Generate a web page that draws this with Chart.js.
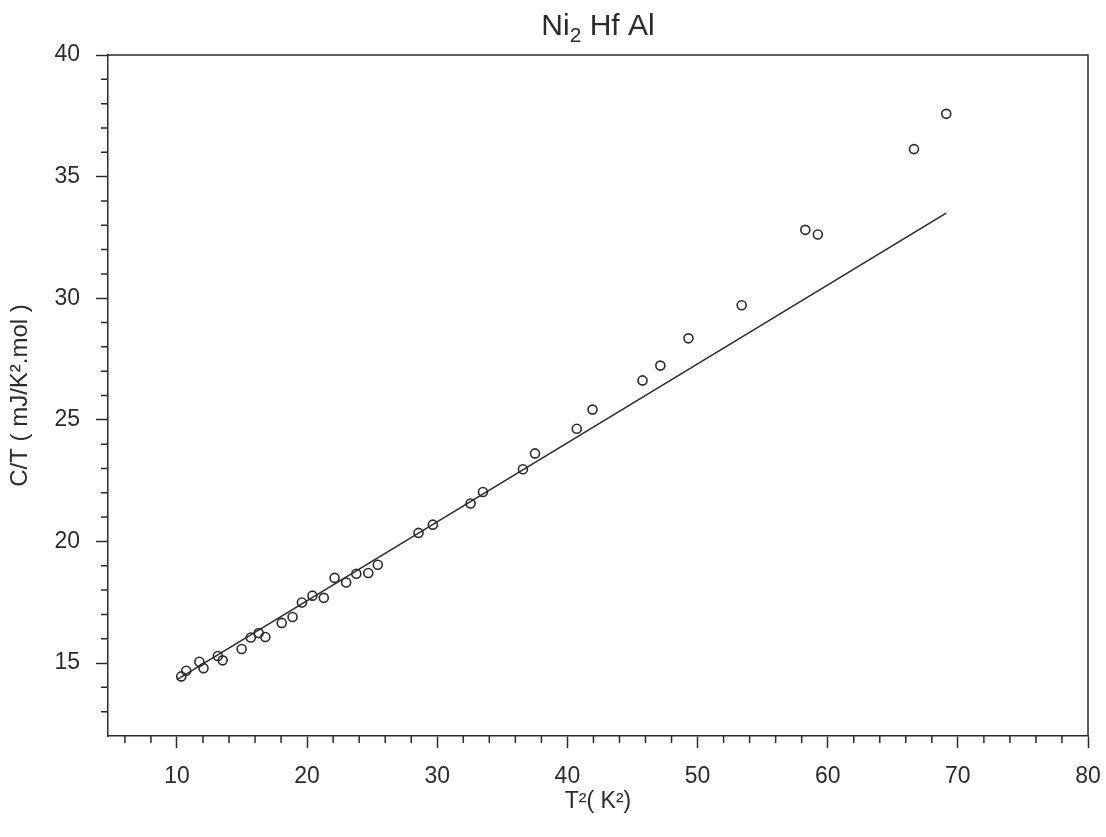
<!DOCTYPE html>
<html>
<head>
<meta charset="utf-8">
<title>Ni2HfAl specific heat</title>
<script src="https://cdn.jsdelivr.net/npm/chart.js@4.4.0/dist/chart.umd.min.js"></script>
<style>
  html, body { margin: 0; padding: 0; background: #fff; }
</style>
</head>
<body>
<canvas id="heatChart" width="1106" height="837"></canvas>
<script>
// measured C/T against T^2
const tSquared = [10.33, 10.71, 11.72, 12.04, 13.14, 13.51, 14.97, 15.67, 16.28, 16.79,
  18.05, 18.88, 19.60, 20.41, 21.28, 22.11, 23.00, 23.78, 24.70, 25.43,
  28.56, 29.66, 32.56, 33.51, 36.58, 37.51, 40.72, 41.93, 45.77, 47.14,
  49.30, 53.39, 58.28, 59.24, 66.63, 69.11];
const cOverT = [14.45, 14.68, 15.05, 14.79, 15.29, 15.11, 15.58, 16.05, 16.23, 16.07,
  16.65, 16.89, 17.49, 17.77, 17.68, 18.50, 18.31, 18.67, 18.70, 19.04,
  20.35, 20.69, 21.56, 22.03, 22.97, 23.62, 24.63, 25.42, 26.62, 27.23,
  28.35, 29.71, 32.81, 32.62, 36.13, 37.58];

// linear fit (gamma + beta T^2), end points
const fitT2 = [10.0, 69.1];
const fitCT = [14.32, 33.5];

const xMajor = [10, 20, 30, 40, 50, 60, 70, 80];
const yMajor = [15, 20, 25, 30, 35, 40];
const xMinorStep = 2;
const yMinorStep = 1;

const INK = "#2b2b2b";
const FONT = "'Liberation Sans', Arial, sans-serif";

const xMinor = [];
for (let v = 6; v <= 80; v += xMinorStep) if (!xMajor.includes(v)) xMinor.push(v);
const yMinor = [];
for (let v = 13; v <= 40; v += yMinorStep) if (!yMajor.includes(v)) yMinor.push(v);

// frame, short minor ticks and the formula title
const framePlugin = {
  id: "framePlugin",
  afterDraw(chart) {
    const { ctx, chartArea: a, scales } = chart;
    ctx.save();
    ctx.strokeStyle = INK;
    ctx.lineWidth = 1.5;
    ctx.beginPath();
    ctx.moveTo(a.left, a.top);
    ctx.lineTo(a.right, a.top);
    ctx.lineTo(a.right, a.bottom);
    xMinor.forEach((v) => {
      const x = scales.x.getPixelForValue(v);
      ctx.moveTo(x, a.bottom);
      ctx.lineTo(x, a.bottom + 7);
    });
    yMinor.forEach((v) => {
      const y = scales.y.getPixelForValue(v);
      ctx.moveTo(a.left, y);
      ctx.lineTo(a.left - 7, y);
    });
    ctx.stroke();

    // Ni2 Hf Al with subscript 2
    const big = "30px " + FONT;
    const small = "21px " + FONT;
    ctx.fillStyle = INK;
    ctx.textBaseline = "alphabetic";
    ctx.font = big;
    const w1 = ctx.measureText("Ni").width;
    const w3 = ctx.measureText(" Hf Al").width;
    ctx.font = small;
    const w2 = ctx.measureText("2").width;
    const total = w1 + w2 + w3;
    let x = (a.left + a.right) / 2 - total / 2;
    const base = 35;
    ctx.textAlign = "left";
    ctx.font = big;
    ctx.fillText("Ni", x, base);
    x += w1;
    ctx.font = small;
    ctx.fillText("2", x, base + 7);
    x += w2;
    ctx.font = big;
    ctx.fillText(" Hf Al", x, base);
    ctx.restore();
  },
};

const ctx = document.getElementById("heatChart").getContext("2d");
new Chart(ctx, {
  data: {
    datasets: [
      {
        type: "scatter",
        label: "data",
        data: tSquared.map((t, i) => ({ x: t, y: cOverT[i] })),
        pointStyle: "circle",
        pointRadius: 4.5,
        pointBorderWidth: 1.6,
        pointBorderColor: INK,
        pointBackgroundColor: "rgba(255,255,255,0)",
      },
      {
        type: "line",
        label: "fit",
        data: fitT2.map((t, i) => ({ x: t, y: fitCT[i] })),
        borderColor: INK,
        borderWidth: 1.6,
        pointRadius: 0,
        fill: false,
      },
    ],
  },
  options: {
    responsive: false,
    devicePixelRatio: 1,
    animation: false,
    layout: { padding: { top: 55, right: 18, bottom: 0, left: 0 } },
    plugins: {
      legend: { display: false },
      tooltip: { enabled: false },
      title: { display: false },
    },
    scales: {
      x: {
        type: "linear",
        position: "bottom",
        min: 4.7,
        max: 80,
        afterBuildTicks: (axis) => {
          axis.ticks = xMajor.map((v) => ({ value: v }));
        },
        afterFit: (axis) => {
          axis.height = 101;
          axis.paddingLeft = 0;
          axis.paddingRight = 0;
        },
        grid: { drawOnChartArea: false, tickLength: 12, tickColor: INK, tickWidth: 1.5 },
        border: { color: INK, width: 1.5 },
        ticks: {
          color: INK,
          padding: 15,
          maxRotation: 0,
          autoSkip: false,
          font: { family: FONT, size: 23 },
        },
        title: {
          display: true,
          text: "T²( K²)",
          color: INK,
          font: { family: FONT, size: 23 },
          padding: { top: 0, bottom: 22 },
        },
      },
      y: {
        type: "linear",
        position: "left",
        min: 12,
        max: 40,
        afterBuildTicks: (axis) => {
          axis.ticks = yMajor.map((v) => ({ value: v }));
        },
        afterFit: (axis) => {
          axis.width = 108;
        },
        grid: { drawOnChartArea: false, tickLength: 12, tickColor: INK, tickWidth: 1.5 },
        border: { color: INK, width: 1.5 },
        ticks: {
          color: INK,
          padding: 16,
          autoSkip: false,
          font: { family: FONT, size: 23 },
        },
        title: {
          display: true,
          text: "C/T ( mJ/K².mol )",
          color: INK,
          font: { family: FONT, size: 24 },
          padding: { top: 6, bottom: 0 },
        },
      },
    },
  },
  plugins: [framePlugin],
});
</script>
</body>
</html>
